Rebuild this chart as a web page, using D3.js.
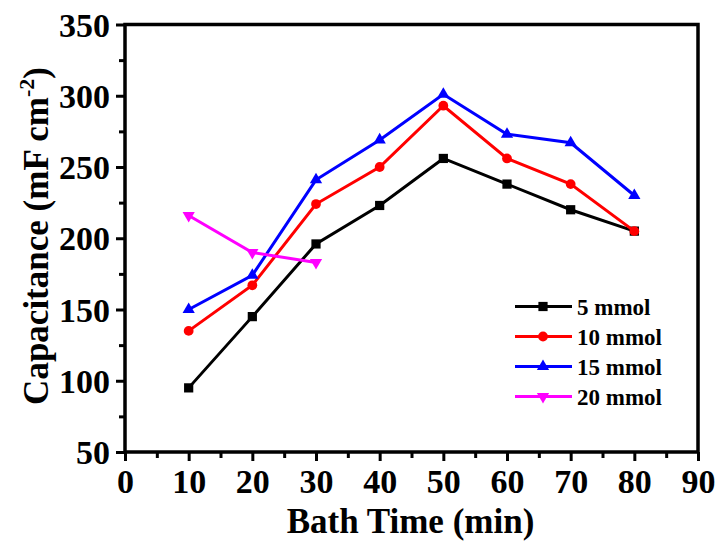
<!DOCTYPE html>
<html><head><meta charset="utf-8">
<script src="https://cdn.jsdelivr.net/npm/d3@7"></script>
<style>body{margin:0;background:#fff}svg{display:block}text{font-family:"Liberation Serif","Times New Roman",serif;font-weight:bold}</style>
</head><body>
<svg id="c" width="721" height="547"></svg>
<script>
const bathTime = [10, 20, 30, 40, 50, 60, 70, 80];
const s5 = [95, 145, 196, 223, 256, 238, 220, 205];
const s10 = [135, 167, 224, 250, 293, 256, 238, 205];
const s15 = [150, 174, 241, 269, 301, 273, 267, 230];
const bathTime20 = [10, 20, 30];
const s20 = [216, 190, 183];
const seriesNames = ["5 mmol", "10 mmol", "15 mmol", "20 mmol"];
const xTicks = [0, 10, 20, 30, 40, 50, 60, 70, 80, 90];
const yTicks = [50, 100, 150, 200, 250, 300, 350];

const series = [
  {name: seriesNames[0], xs: bathTime, ys: s5, color: "#000000", sym: d3.symbolSquare, size: 85, rot: 0},
  {name: seriesNames[1], xs: bathTime, ys: s10, color: "#FF0000", sym: d3.symbolCircle, size: 75, rot: 0},
  {name: seriesNames[2], xs: bathTime, ys: s15, color: "#0000FF", sym: d3.symbolTriangle, size: 65, rot: 0},
  {name: seriesNames[3], xs: bathTime20, ys: s20, color: "#FF00FF", sym: d3.symbolTriangle, size: 65, rot: 180}
];

const svg = d3.select("#c");
const L = 125, R = 698, T = 24.5, B = 452;
const x = d3.scaleLinear().domain([0, 90]).range([L, R]);
const y = d3.scaleLinear().domain([50, 350]).range([B, T]);

// minor ticks
const xMinor = d3.range(5, 90, 10);
const yMinor = d3.range(75, 350, 50);
svg.append("g").attr("transform", `translate(0,${B})`)
  .call(d3.axisBottom(x).tickValues(xMinor).tickSize(6).tickFormat(""))
  .call(g => g.select(".domain").remove())
  .call(g => g.selectAll("line").attr("stroke-width", 3));
svg.append("g").attr("transform", `translate(${L},0)`)
  .call(d3.axisLeft(y).tickValues(yMinor).tickSize(6).tickFormat(""))
  .call(g => g.select(".domain").remove())
  .call(g => g.selectAll("line").attr("stroke-width", 3));

const xa = svg.append("g").attr("transform", `translate(0,${B})`)
  .call(d3.axisBottom(x).tickValues(xTicks).tickSize(9).tickPadding(5).tickSizeOuter(0));
xa.select(".domain").remove();
xa.selectAll("line").attr("stroke-width", 3);
xa.selectAll("text").attr("font-size", 34).attr("fill", "#000").attr("font-family", "Liberation Serif").attr("dy", "0.78em");

const ya = svg.append("g").attr("transform", `translate(${L},0)`)
  .call(d3.axisLeft(y).tickValues(yTicks).tickSize(9).tickPadding(6).tickSizeOuter(0));
ya.select(".domain").remove();
ya.selectAll("line").attr("stroke-width", 3);
ya.selectAll("text").attr("font-size", 34).attr("fill", "#000").attr("font-family", "Liberation Serif").attr("dy", "0.34em");

// frame
svg.append("rect").attr("x", L).attr("y", T).attr("width", R - L).attr("height", B - T)
  .attr("fill", "none").attr("stroke", "#000").attr("stroke-width", 3.5);

// lines & markers
const line = d3.line().x(d => x(d[0])).y(d => y(d[1]));
series.forEach(s => {
  const pts = s.xs.map((v, i) => [v, s.ys[i]]);
  svg.append("path").datum(pts).attr("d", line).attr("fill", "none")
    .attr("stroke", s.color).attr("stroke-width", 3);
  svg.append("g").selectAll("path").data(pts).join("path")
    .attr("d", d3.symbol().type(s.sym).size(s.size))
    .attr("transform", d => `translate(${x(d[0])},${y(d[1])}) rotate(${s.rot})`)
    .attr("fill", s.color);
});

// legend
const lg = svg.append("g");
series.forEach((s, i) => {
  const yy = 306.5 + i * 30;
  lg.append("line").attr("x1", 515).attr("x2", 572).attr("y1", yy).attr("y2", yy)
    .attr("stroke", s.color).attr("stroke-width", 3);
  lg.append("path").attr("d", d3.symbol().type(s.sym).size(s.size)())
    .attr("transform", `translate(543,${yy}) rotate(${s.rot})`).attr("fill", s.color);
  lg.append("text").attr("x", 577).attr("y", yy).attr("dy", "0.35em")
    .attr("font-size", 23).text(s.name);
});

// axis titles
svg.append("text").attr("x", (L + R) / 2 - 1).attr("y", 533).attr("text-anchor", "middle")
  .attr("font-size", 35).text("Bath Time (min)");
const yt = svg.append("text").attr("transform", "translate(48,236) rotate(-90)")
  .attr("text-anchor", "middle").attr("font-size", 35);
yt.append("tspan").text("Capacitance (mF cm");
yt.append("tspan").attr("font-size", 22).attr("dy", -14).text("-2");
yt.append("tspan").attr("dy", 14).text(")");
</script>
</body></html>
